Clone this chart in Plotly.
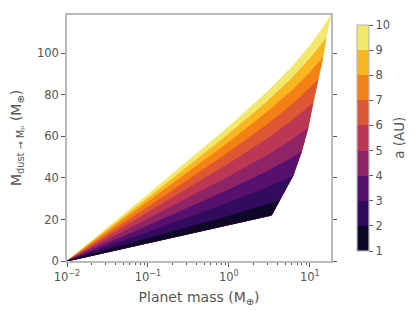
import plotly.graph_objects as go

# ---- data ----
a_levels = [1, 2, 3, 4, 5, 6, 7, 8, 9, 10]
mp_grid = [0.01, 0.1, 1, 3, 6, 10, 14]
# end point (pebble-isolation) of each a-curve
iso_mass = [3.36, 4.2, 6.17, 7.83, 9.45, 10.9, 12.6, 14.5, 15.9, 18.3]
iso_dust = [22.1, 29.1, 41.0, 52.4, 64.0, 76.0, 87.3, 98.0, 107.3, 118.5]
# dust mass along each a-curve at mp_grid points (below the end point)
dust_a1 = [0, 8.75, 17.5, 21.7]
dust_a2 = [0, 10.7, 21.6, 27.2]
dust_a3 = [0, 13.9, 28.1, 35.4, 40.7]
dust_a4 = [0, 17.0, 34.3, 43.2, 49.6]
dust_a5 = [0, 20.1, 40.6, 51.0, 58.4]
dust_a6 = [0, 23.3, 46.9, 59.0, 67.5, 74.7]
dust_a7 = [0, 26.0, 52.4, 65.9, 75.3, 83.3]
dust_a8 = [0, 28.4, 57.2, 71.9, 82.1, 90.8, 97.2]
dust_a9 = [0, 30.3, 61.2, 76.9, 88.0, 97.4, 104.4]
dust_a10 = [0, 32.1, 64.8, 81.6, 93.5, 103.7, 111.5]
band_colors = ['#0c0826', '#320a5e', '#57106e', '#8e2466', '#bc3754',
               '#df5635', '#f48116', '#f9b621', '#f3e86c']
x_tickvals = [0.01, 0.1, 1, 10]
x_ticktext = ['10<sup>\u22122</sup>', '10<sup>\u22121</sup>', '10<sup>0</sup>', '10<sup>1</sup>']
x_minor = [0.02, 0.03, 0.04, 0.05, 0.06, 0.07, 0.08, 0.09,
           0.2, 0.3, 0.4, 0.5, 0.6, 0.7, 0.8, 0.9,
           2, 3, 4, 5, 6, 7, 8, 9]
y_tickvals = [0, 20, 40, 60, 80, 100]

dust_curves = [dust_a1, dust_a2, dust_a3, dust_a4, dust_a5,
               dust_a6, dust_a7, dust_a8, dust_a9, dust_a10]


def curve(i):
    d = dust_curves[i]
    return list(mp_grid[:len(d)]) + [iso_mass[i]], list(d) + [iso_dust[i]]


TXT = '#555555'
FONT = 'DejaVu Sans'

fig = go.Figure()
x1, y1 = curve(0)
for j in range(len(a_levels) - 1, 0, -1):
    xj, yj = curve(j)
    xs = x1 + iso_mass[1:j] + xj[::-1]
    ys = y1 + iso_dust[1:j] + yj[::-1]
    c = band_colors[j - 1]
    fig.add_trace(go.Scatter(x=xs, y=ys, mode='lines', fill='toself',
                             fillcolor=c, line=dict(color=c, width=0.6),
                             hoverinfo='skip', showlegend=False))

# colorbar
cs = []
n = len(band_colors)
for i, c in enumerate(band_colors):
    cs.append([i / n, c])
    cs.append([(i + 1) / n, c])
fig.add_trace(go.Scatter(
    x=[None], y=[None], mode='markers', showlegend=False, hoverinfo='skip',
    marker=dict(color=[a_levels[0]], colorscale=cs, cmin=a_levels[0], cmax=a_levels[-1],
                showscale=True,
                colorbar=dict(x=1.062, xanchor='left', y=0.5, yanchor='middle',
                              len=1, lenmode='fraction', thickness=12,
                              outlinewidth=1.2, outlinecolor='#bbbbbb',
                              tickvals=a_levels, ticks='outside', ticklen=4,
                              tickcolor=TXT, tickfont=dict(size=11.5, color=TXT, family=FONT)))))

fig.add_annotation(text='a (AU)', xref='paper', yref='paper', x=1.257, y=0.5,
                   xanchor='center', yanchor='middle', textangle=-90, showarrow=False,
                   font=dict(size=13.5, color=TXT, family=FONT))

# page body has an 8px margin: figure is 408x308 so the page fills 416x316
fig.update_layout(
    width=408, height=308,
    margin=dict(l=59, r=84.5, t=7, b=55.3, autoexpand=False),
    paper_bgcolor='white', plot_bgcolor='white',
    font=dict(family=FONT, color=TXT),
    xaxis=dict(type='log', range=[-2, 1.2625], tickvals=x_tickvals, ticktext=x_ticktext,
               ticks='outside', ticklen=4, tickwidth=1, tickcolor=TXT,
               tickfont=dict(size=11.5, color=TXT), automargin=False,
               showline=True, linecolor='#bbbbbb', linewidth=1.5, mirror=True,
               showgrid=False, zeroline=False,
               minor=dict(tickvals=x_minor, ticks='outside', ticklen=2, tickcolor=TXT, showgrid=False),
               title=dict(text='Planet mass (M<sub>\u2295</sub>)', font=dict(size=14, color=TXT),
                          standoff=10)),
    yaxis=dict(range=[0, 118.5], tickvals=y_tickvals,
               ticks='outside', ticklen=4, tickwidth=1, tickcolor=TXT,
               tickfont=dict(size=11.5, color=TXT), automargin=False,
               showline=True, linecolor='#bbbbbb', linewidth=1.5, mirror='ticks',
               showgrid=False, zeroline=False,
               title=dict(text='M<sub>dust \u2192 M\u209a</sub> (M<sub>\u2295</sub>)',
                          font=dict(size=14, color=TXT), standoff=12)),
)

fig.write_html('out.html')
